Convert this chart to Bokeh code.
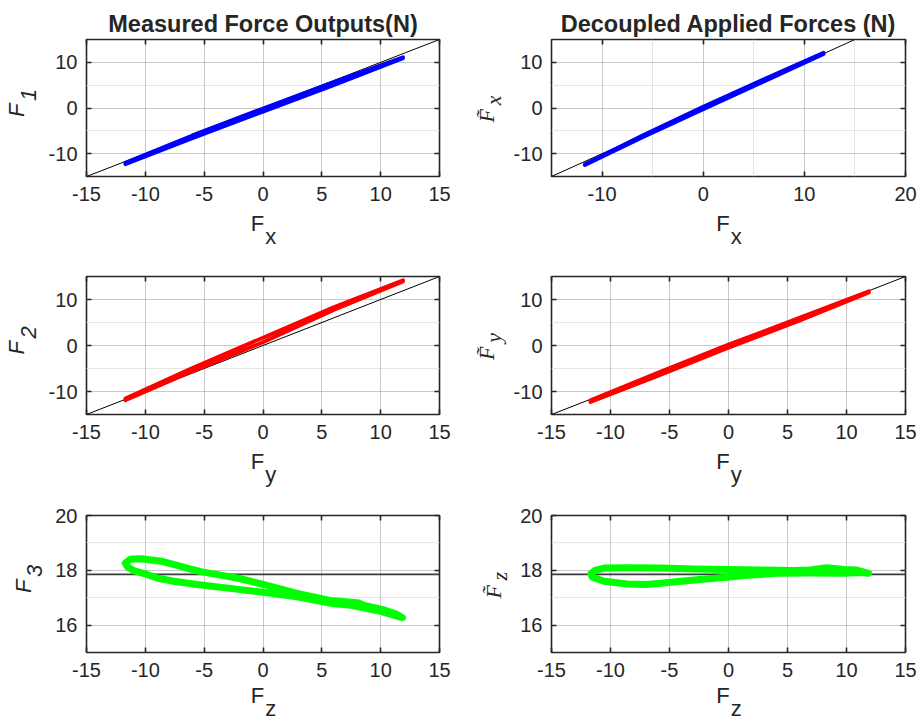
from bokeh.plotting import figure
from bokeh.models import Range1d, LinearAxis, FixedTicker, Grid
from bokeh.layouts import column, row
from bokeh.embed import file_html
from bokeh.resources import INLINE

# ---------------- data ----------------
# Panel 1: measured F1 vs applied Fx (hysteresis band, out and back)
p1_x = [-11.7, -6.0, 0.0, 6.0, 11.9, 11.9, 6.0, 0.0, -6.0, -11.7]
p1_y = [-12.0, -6.0, -0.1, 5.7, 11.1, 10.9, 5.0, -0.8, -6.6, -12.3]
# Panel 2: decoupled Fx~ vs applied Fx
p2_x = [-11.7, -6.0, 0.0, 6.0, 11.9, 11.9, 6.0, 0.0, -6.0, -11.7]
p2_y = [-12.3, -6.0, 0.3, 6.3, 12.1, 11.8, 5.8, -0.3, -6.4, -12.5]
# Panel 3: measured F2 vs applied Fy
p3_x = [-11.7, -6.0, 0.0, 6.0, 11.9, 11.9, 6.0, 0.0, -6.0, -11.7]
p3_y = [-11.5, -4.9, 1.7, 8.3, 14.2, 13.9, 7.7, 0.7, -5.6, -11.9]
# Panel 4: decoupled Fy~ vs applied Fy
p4_x = [-11.7, -6.0, 0.0, 6.0, 11.9, 11.9, 6.0, 0.0, -6.0, -11.7]
p4_y = [-11.9, -5.9, 0.2, 6.0, 11.8, 11.5, 5.4, -0.5, -6.6, -12.3]
# Panel 5: measured F3 vs applied Fz (loop)
p5_x = [-11.7, -11.3, -10.3, -8.5, -7.0, -5.3, -4.2, -2.0, 0.1, 2.9, 5.7, 8.0,
        8.6, 10.3, 11.4, 11.85, 11.4, 10.0, 8.6, 7.5, 5.7, 2.9, 0.0, -2.8,
        -5.6, -7.6, -9.0, -9.8, -11.0, -11.5, -11.7]
p5_y = [18.26, 18.40, 18.42, 18.32, 18.14, 17.95, 17.87, 17.70, 17.48, 17.16, 16.90, 16.82,
        16.72, 16.55, 16.39, 16.27, 16.33, 16.50, 16.62, 16.72, 16.80, 17.03, 17.20, 17.34,
        17.48, 17.60, 17.72, 17.84, 17.99, 18.12, 18.26]
# Panel 6: decoupled Fz~ vs applied Fz (loop)
p6_x = [-11.67, -11.3, -10.55, -8.57, -5.75, -2.93, -0.11, 2.7, 5.5, 6.93, 8.34, 9.75,
        10.88, 11.87, 11.3, 9.75, 6.93, 4.1, 1.3, -0.11, -2.93, -5.75, -7.0, -8.57,
        -10.55, -11.53, -11.67]
p6_y = [17.87, 18.00, 18.08, 18.09, 18.08, 18.05, 18.03, 18.01, 17.99, 18.01, 18.09, 18.03,
        18.01, 17.89, 17.92, 17.89, 17.90, 17.89, 17.81, 17.75, 17.65, 17.53, 17.48, 17.50,
        17.60, 17.75, 17.87]

diag_x = [-20, 20]
diag_y = [-20, 20]
f3_ref_x = [-15, 15]
f3_ref_y = [17.85, 17.85]

ticks_15 = [-15, -10, -5, 0, 5, 10, 15]
ticks_p2x = [-10, 0, 10, 20]
yticks_main = [-10, 0, 10]
yticks_f3 = [16, 18, 20]

titles = ["Measured Force Outputs(N)", "Decoupled Applied Forces (N)"]
x_subs = ["x", "y", "z"]
left_subs = ["1", "2", "3"]
right_subs = ["x", "y", "z"]

# ---------------- styling ----------------
FONT = "Liberation Sans"
SERIF = "Liberation Serif"
TXT = "#262626"
BLUE, RED, GREEN = "#0000ff", "#ff0000", "#00ff00"
EN, THIN, EM = "\u2002", "\u2009", "\u2003"

cols = [dict(bl=86, W=353, br=21), dict(bl=91, W=354, br=15)]
rows = [dict(bt=39, H=137, bb=76, ls=7), dict(bt=24, H=138, bb=76, ls=7),
        dict(bt=25, H=137, bb=72, ls=3)]


def make_panel(c, r, xr, yr, xt, yt):
    p = figure(frame_width=c["W"], frame_height=r["H"],
               x_range=Range1d(*xr), y_range=Range1d(*yr),
               output_backend="svg", toolbar_location=None,
               x_axis_location=None, y_axis_location=None,
               min_border_left=c["bl"], min_border_right=c["br"],
               min_border_top=r["bt"], min_border_bottom=r["bb"])
    p.background_fill_color = "white"
    p.border_fill_color = "white"
    p.outline_line_color = TXT
    p.outline_line_width = 1.6
    axes = {}
    for loc, ticks in [("below", xt), ("above", xt), ("left", yt), ("right", yt)]:
        ax = LinearAxis(ticker=FixedTicker(ticks=ticks), axis_line_color=None,
                        major_tick_in=5, major_tick_out=0, minor_tick_line_color=None,
                        major_tick_line_color=TXT, major_tick_line_width=1.6,
                        major_label_text_font=FONT, major_label_text_font_size="20px",
                        major_label_text_color=TXT,
                        major_label_overrides={t: str(t) for t in ticks})
        if loc == "below":
            ax.major_label_standoff = 10
        elif loc == "left":
            ax.major_label_standoff = 9
        else:
            ax.major_label_overrides = {t: "" for t in ticks}
            ax.major_label_text_font_size = "0px"
            ax.major_label_standoff = 0
        p.add_layout(ax, loc)
        axes[loc] = ax
    p.add_layout(Grid(dimension=0, ticker=FixedTicker(ticks=xt),
                      grid_line_color=TXT, grid_line_alpha=0.14, grid_line_width=1))
    p.add_layout(Grid(dimension=1, ticker=FixedTicker(ticks=yt),
                      grid_line_color=TXT, grid_line_alpha=0.14, grid_line_width=1))
    return p, axes


panels = []
specs = [
    (0, 0, (-15, 15), (-15, 15), ticks_15, yticks_main, p1_x, p1_y, BLUE, "diag"),
    (1, 0, (-15, 20), (-15, 15), ticks_p2x, yticks_main, p2_x, p2_y, BLUE, "diag"),
    (0, 1, (-15, 15), (-15, 15), ticks_15, yticks_main, p3_x, p3_y, RED, "diag"),
    (1, 1, (-15, 15), (-15, 15), ticks_15, yticks_main, p4_x, p4_y, RED, "diag"),
    (0, 2, (-15, 15), (15, 20), ticks_15, yticks_f3, p5_x, p5_y, GREEN, "flat"),
    (1, 2, (-15, 15), (15, 20), ticks_15, yticks_f3, p6_x, p6_y, GREEN, "flat"),
]

for ci, ri, xr, yr, xt, yt, xs, ys, color, ref in specs:
    p, axes = make_panel(cols[ci], rows[ri], xr, yr, xt, yt)
    if ref == "diag":
        p.line(diag_x, diag_y, line_color="black", line_width=1)
        p.line(xs, ys, line_color=color, line_width=3.8, line_join="round", line_cap="round")
    else:
        p.line(f3_ref_x, f3_ref_y, line_color="#3c3c3c", line_width=1.6)
        p.line(xs, ys, line_color=color, line_width=7, line_join="round", line_cap="round")

    # title
    if ri == 0:
        p.title.text = titles[ci]
        p.title.align = "center"
        p.title.text_font = FONT
        p.title.text_font_size = "23.5px"
        p.title.text_font_style = "bold"
        p.title.text_color = TXT
        p.title.standoff = 6

    # x label: F with a lowered subscript (second, tightly spaced line)
    bx = axes["below"]
    bx.axis_label = "F" + EN + "\n" + EN + THIN + x_subs[ri]
    bx.axis_label_text_font = FONT
    bx.axis_label_text_font_size = "22px"
    bx.axis_label_text_font_style = "normal"
    bx.axis_label_text_color = TXT
    bx.axis_label_text_line_height = 0.55
    bx.axis_label_standoff = rows[ri]["ls"]

    # y label
    ly = axes["left"]
    if ci == 0:
        ly.axis_label = "F" + THIN + "\n" + EM + THIN + left_subs[ri]
        ly.axis_label_text_font = FONT
        ly.axis_label_text_font_style = "italic"
        ly.axis_label_text_line_height = 0.45
    else:
        ly.axis_label = "F\u0303" + EN + THIN + "\n" + EN + THIN + right_subs[ri]
        ly.axis_label_text_font = SERIF
        ly.axis_label_text_font_style = "italic"
        ly.axis_label_text_line_height = 0.25
    ly.axis_label_text_font_size = "22px"
    ly.axis_label_text_color = TXT
    ly.axis_label_standoff = 5
    panels.append(p)

layout = column(row(panels[0], panels[1]), row(panels[2], panels[3]), row(panels[4], panels[5]))
open("out.html", "w").write(file_html(layout, INLINE))
